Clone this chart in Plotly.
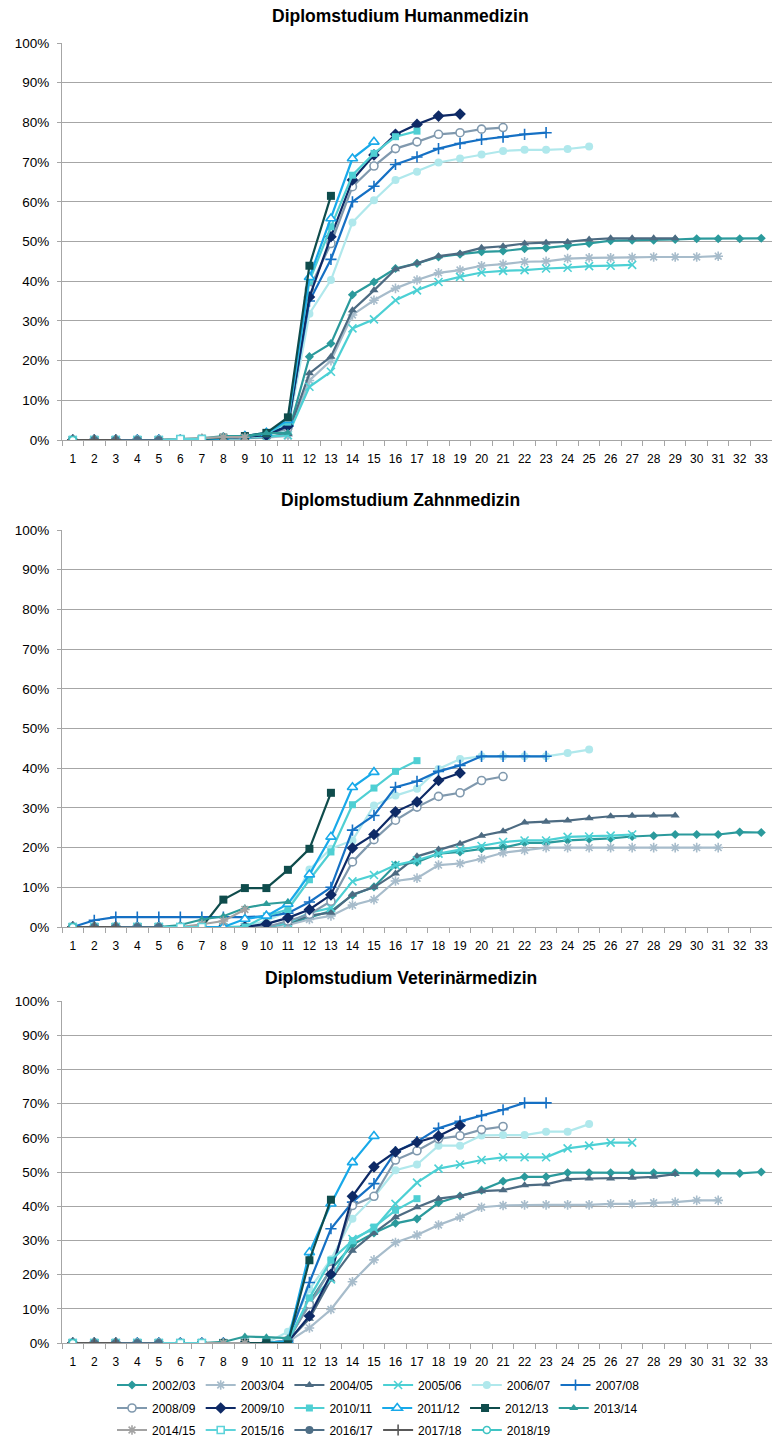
import plotly.graph_objects as go

# ---------------- data ----------------
SEMESTERS = list(range(1, 34))
SEMESTER_LABELS = [str(s) for s in SEMESTERS]
Y_TICKS = [0, 10, 20, 30, 40, 50, 60, 70, 80, 90, 100]
Y_TICK_LABELS = [f"{v}%" for v in Y_TICKS]

COHORTS = ["2002/03", "2003/04", "2004/05", "2005/06", "2006/07", "2007/08",
           "2008/09", "2009/10", "2010/11", "2011/12", "2012/13", "2013/14",
           "2014/15", "2015/16", "2016/17", "2017/18", "2018/19"]

PANEL_TITLES = ["Diplomstudium Humanmedizin", "Diplomstudium Zahnmedizin",
                "Diplomstudium Veterinärmedizin"]

# Humanmedizin (cumulative share of graduates, %)
HUM_2002 = [0, 0, 0, 0, 0, 0, 0, 0.3, 0.5, 0.8, 1.3, 21.0, 24.3, 36.6, 39.8, 43.2, 44.5, 46.1, 46.8, 47.4,
            47.6, 48.2, 48.4, 48.9, 49.5, 50.2, 50.3, 50.3, 50.5, 50.7, 50.7, 50.7, 50.8]
HUM_2003 = [0, 0, 0, 0, 0, 0, 0, 0.2, 0.4, 0.6, 1.0, 15.0, 20.0, 31.5, 35.2, 38.2, 40.3, 42.1, 42.8, 43.9,
            44.3, 44.9, 45.0, 45.7, 45.9, 45.9, 46.0, 46.1, 46.1, 46.1, 46.3]
HUM_2004 = [0, 0, 0, 0, 0, 0, 0, 0.3, 0.5, 0.8, 1.5, 16.8, 21.0, 32.7, 37.7, 43.0, 44.5, 46.3, 47.0, 48.4,
            48.8, 49.5, 49.7, 49.9, 50.5, 50.8, 50.8, 50.8, 50.8]
HUM_2005 = [0, 0, 0, 0, 0, 0, 0, 0.2, 0.5, 0.8, 1.2, 13.4, 17.2, 28.1, 30.4, 35.2, 37.7, 39.8, 41.1, 42.2,
            42.6, 42.8, 43.2, 43.4, 43.8, 43.9, 44.1]
HUM_2006 = [0, 0, 0, 0, 0, 0, 0, 0.3, 0.6, 1.2, 2.5, 31.8, 40.3, 54.8, 60.4, 65.5, 67.6, 69.9, 70.9, 71.9,
            72.8, 73.1, 73.1, 73.3, 73.9]
HUM_2007 = [0, 0, 0, 0, 0, 0, 0, 0.4, 0.8, 1.5, 3.5, 35.0, 45.5, 60.0, 63.9, 69.4, 71.3, 73.4, 74.7, 75.7,
            76.3, 77.0, 77.4]
HUM_2008 = [0, 0, 0, 0, 0, 0, 0, 0.3, 0.7, 1.3, 3.0, 38.0, 49.5, 63.8, 69.0, 73.4, 75.1, 77.0, 77.4, 78.3,
            78.7]
HUM_2009 = [0, 0, 0, 0, 0, 0, 0, 0.4, 0.8, 1.2, 3.5, 36.0, 51.2, 65.5, 71.8, 77.0, 79.5, 81.6, 82.1]
HUM_2010 = [0, 0, 0, 0, 0, 0, 0, 0.5, 0.9, 1.6, 4.5, 40.0, 53.7, 66.7, 72.2, 76.4, 77.8]
HUM_2011 = [0, 0, 0, 0, 0, 0, 0, 0.5, 1.0, 1.8, 5.0, 41.0, 55.8, 70.9, 75.1]
HUM_2012 = [0, 0, 0, 0, 0, 0.2, 0.3, 0.6, 1.0, 1.8, 5.7, 43.9, 61.5]
HUM_2013 = [0, 0, 0, 0, 0, 0.2, 0.4, 1.0, 1.0, 1.7, 1.8]
HUM_2014 = [0, 0, 0, 0, 0, 0.2, 0.4, 0.7, 0.7]
HUM_2015 = [0, 0, 0, 0, 0, 0.25, 0.25]
HUM_2016 = [0, 0, 0, 0, 0]
HUM_2017 = [0, 0, 0]
HUM_2018 = [0]

# Zahnmedizin
ZAHN_2002 = [0, 0, 0, 0, 0, 0, 0, 0, 0, 0, 0.8, 2.5, 4.0, 8.0, 10.1, 15.6, 16.3, 18.5, 18.9, 19.7,
             20.0, 21.2, 21.2, 21.8, 22.1, 22.3, 22.8, 23.0, 23.3, 23.3, 23.3, 23.9, 23.8]
ZAHN_2003 = [0, 0, 0, 0, 0, 0, 0, 0, 0, 0, 0.5, 1.9, 2.8, 5.5, 6.9, 11.6, 12.3, 15.6, 16.0, 17.2,
             18.7, 19.3, 20.0, 20.0, 20.0, 20.0, 20.0, 20.0, 20.0, 20.0, 20.0]
ZAHN_2004 = [0, 0, 0, 0, 0, 0, 0, 0, 0, 0, 1.0, 2.9, 3.6, 8.2, 10.0, 13.5, 17.8, 19.5, 21.0, 23.0,
             24.1, 26.3, 26.5, 26.8, 27.4, 27.9, 28.0, 28.1, 28.1]
ZAHN_2005 = [0, 0, 0, 0, 0, 0, 0, 0, 0, 0, 1.0, 3.6, 4.8, 11.5, 13.1, 15.6, 16.8, 18.5, 19.5, 20.4,
             21.4, 21.8, 21.8, 22.7, 22.8, 23.0, 23.3]
ZAHN_2006 = [0, 0, 0, 0, 0, 0, 0, 0, 0.3, 1.5, 4.0, 14.5, 19.7, 21.8, 30.6, 33.1, 34.8, 39.8, 42.3, 43.0,
             43.0, 43.0, 43.0, 43.8, 44.7]
ZAHN_2007 = [0, 1.7, 2.5, 2.5, 2.5, 2.5, 2.5, 2.5, 2.5, 2.7, 3.5, 6.3, 10.0, 24.4, 28.1, 35.2, 36.7, 39.2,
             40.7, 43.0, 43.0, 43.0, 43.0]
ZAHN_2008 = [0, 0, 0, 0, 0, 0, 0, 0, 0, 0, 1.5, 3.2, 6.5, 16.4, 22.0, 26.9, 30.2, 32.9, 33.8, 36.9, 37.9]
ZAHN_2009 = [0, 0, 0, 0, 0, 0, 0, 0, 0, 0.8, 2.3, 4.4, 8.1, 19.9, 23.3, 29.0, 31.5, 36.9, 38.8]
ZAHN_2010 = [0, 0, 0, 0, 0, 0, 0, 0, 0, 2.8, 4.4, 11.9, 18.9, 30.8, 35.0, 39.2, 41.9]
ZAHN_2011 = [0, 0, 0, 0, 0, 0, 0, 0, 2.0, 2.8, 5.8, 13.2, 22.7, 35.2, 39.0]
ZAHN_2012 = [0, 0, 0, 0, 0, 0, 0, 6.9, 9.8, 9.8, 14.4, 19.7, 33.8]
ZAHN_2013 = [0, 0, 0, 0, 0, 0.5, 1.9, 2.7, 4.8, 5.8, 6.3]
ZAHN_2014 = [0, 0, 0, 0, 0, 0, 0.7, 1.5, 4.4]
ZAHN_2015 = [0, 0, 0, 0, 0, 0, 0]
ZAHN_2016 = [0, 0, 0, 0, 0]
ZAHN_2017 = [0, 0, 0]
ZAHN_2018 = [0]

# Veterinärmedizin
VET_2002 = [0, 0, 0, 0, 0, 0, 0, 0, 0, 0, 0.5, 12.0, 21.5, 28.7, 32.2, 35.0, 36.3, 41.0, 43.0, 44.7,
            47.3, 48.6, 48.6, 49.8, 49.8, 49.8, 49.8, 49.8, 49.8, 49.8, 49.6, 49.6, 50.0]
VET_2003 = [0, 0, 0, 0, 0, 0, 0, 0, 0, 0, 0.3, 4.4, 9.8, 17.9, 24.3, 29.4, 31.6, 34.5, 36.8, 39.7,
            40.2, 40.4, 40.4, 40.4, 40.4, 40.7, 40.7, 41.0, 41.2, 41.7, 41.7]
VET_2004 = [0, 0, 0, 0, 0, 0, 0, 0, 0, 0, 0.5, 7.1, 18.6, 27.0, 32.2, 36.8, 39.7, 42.2, 43.0, 44.4,
            44.7, 46.1, 46.4, 47.9, 48.1, 48.1, 48.3, 48.6, 49.4]
VET_2005 = [0, 0, 0, 0, 0, 0, 0, 0, 0, 0, 0.5, 12.0, 18.6, 30.4, 33.4, 40.7, 46.9, 51.0, 52.2, 53.5,
            54.3, 54.3, 54.3, 56.9, 57.7, 58.6, 58.6]
VET_2006 = [0, 0, 0, 0, 0, 0, 0, 0, 0, 0, 3.3, 15.7, 24.5, 36.3, 42.7, 50.5, 52.2, 57.7, 57.7, 60.7,
            60.8, 60.8, 61.8, 61.8, 64.0]
VET_2007 = [0, 0, 0, 0, 0, 0, 0, 0, 0, 0, 0.8, 17.7, 33.4, 41.2, 46.6, 55.9, 58.9, 62.8, 64.8, 66.5,
            68.2, 70.2, 70.2]
VET_2008 = [0, 0, 0, 0, 0, 0, 0, 0, 0, 0, 0.8, 11.3, 21.6, 40.2, 42.9, 53.5, 56.2, 59.7, 60.6, 62.4, 63.3]
VET_2009 = [0, 0, 0, 0, 0, 0, 0, 0, 0, 0, 0.3, 7.9, 20.1, 42.9, 51.5, 55.9, 58.7, 60.5, 63.6]
VET_2010 = [0, 0, 0, 0, 0, 0, 0, 0, 0, 0, 0.5, 13.2, 24.2, 29.9, 33.9, 38.8, 42.2]
VET_2011 = [0, 0, 0, 0, 0, 0, 0, 0, 0, 0, 0.5, 26.5, 40.7, 52.8, 60.5]
VET_2012 = [0, 0, 0, 0, 0, 0, 0, 0, 0, 0, 0, 24.2, 41.9]
VET_2013 = [0, 0, 0, 0, 0, 0, 0, 0.3, 1.9, 1.7, 1.4]
VET_2014 = [0, 0, 0, 0, 0, 0, 0, 0, 0]
VET_2015 = [0, 0, 0, 0, 0, 0, 0]
VET_2016 = [0, 0, 0, 0, 0]
VET_2017 = [0, 0, 0]
VET_2018 = [0]

HUMAN = [HUM_2002, HUM_2003, HUM_2004, HUM_2005, HUM_2006, HUM_2007, HUM_2008, HUM_2009, HUM_2010,
         HUM_2011, HUM_2012, HUM_2013, HUM_2014, HUM_2015, HUM_2016, HUM_2017, HUM_2018]
ZAHN = [ZAHN_2002, ZAHN_2003, ZAHN_2004, ZAHN_2005, ZAHN_2006, ZAHN_2007, ZAHN_2008, ZAHN_2009, ZAHN_2010,
        ZAHN_2011, ZAHN_2012, ZAHN_2013, ZAHN_2014, ZAHN_2015, ZAHN_2016, ZAHN_2017, ZAHN_2018]
VET = [VET_2002, VET_2003, VET_2004, VET_2005, VET_2006, VET_2007, VET_2008, VET_2009, VET_2010,
       VET_2011, VET_2012, VET_2013, VET_2014, VET_2015, VET_2016, VET_2017, VET_2018]

# ---------------- styles ----------------
COLORS = ["#2B9A9C", "#A7BCCB", "#4D6B82", "#4CD0D4", "#B0E8EC", "#1570C4",
          "#8099AE", "#0E2A66", "#4FCFD3", "#18A9E9", "#0F4C4C", "#2D9C9A",
          "#A3A3A3", "#5ED3DA", "#4E6E86", "#595959", "#3FC4C4"]
# (symbol, hollow-with-white-fill)
SYMBOLS = [("diamond", False), ("asterisk-open", False), ("triangle-up", False), ("x-thin-open", False),
           ("circle", False), ("cross-thin-open", False), ("circle", True), ("diamond", False),
           ("square", False), ("triangle-up", True), ("square", False), ("triangle-up", False),
           ("asterisk-open", False), ("square", True), ("circle", False), ("cross-thin-open", False),
           ("circle", True)]
SIZES = [7, 8, 8, 8, 8, 8, 8, 9, 7, 9, 8, 8, 8, 7, 8, 8, 7]

FONT = "Liberation Sans, Arial, sans-serif"
GRID = "#A6A6A6"
W, H = 772, 1441

# panel geometry in pixels (top, bottom)
PANELS_PX = [(43, 440), (530, 927), (1001, 1343)]
TITLE_Y_PX = [16, 500, 978]
X_LEFT_PX, X_RIGHT_PX = 62, 772

fig = go.Figure()
datasets = [HUMAN, ZAHN, VET]
for p, data in enumerate(datasets):
    suffix = "" if p == 0 else str(p + 1)
    for i, cohort in enumerate(COHORTS):
        vals = data[i]
        sym, hollow = SYMBOLS[i]
        if hollow:
            marker = dict(symbol=sym, size=SIZES[i], color="white",
                          line=dict(color=COLORS[i], width=1.6))
        elif sym.endswith("-open"):
            marker = dict(symbol=sym, size=SIZES[i], color=COLORS[i],
                          line=dict(color=COLORS[i], width=1.6))
        else:
            marker = dict(symbol=sym, size=SIZES[i], color=COLORS[i], line=dict(width=0))
        legend_id = "legend" if i < 6 else ("legend2" if i < 12 else "legend3")
        fig.add_trace(go.Scatter(
            x=SEMESTERS[:len(vals)], y=vals, mode="lines+markers", name=cohort,
            line=dict(color=COLORS[i], width=2.2), marker=marker,
            xaxis="x" + suffix, yaxis="y" + suffix,
            showlegend=(p == 0), legend=legend_id,
            hovertemplate=cohort + ": %{y:.1f}%<extra></extra>"))

layout = dict(
    width=W, height=H, margin=dict(l=0, r=0, t=0, b=0, autoexpand=False),
    paper_bgcolor="white", plot_bgcolor="white",
    font=dict(family=FONT, size=12, color="#000000"),
    annotations=[],
)
for p in range(3):
    suffix = "" if p == 0 else str(p + 1)
    top, bot = PANELS_PX[p]
    layout["xaxis" + suffix] = dict(
        domain=[X_LEFT_PX / W, X_RIGHT_PX / W], anchor="y" + suffix, automargin=False,
        range=[0.5, 33.5], tickmode="array", tickvals=SEMESTERS, ticktext=SEMESTER_LABELS,
        ticks="", showgrid=False, zeroline=False, showline=True, linecolor=GRID, linewidth=1,
        tickfont=dict(size=12, family=FONT, color="#000000"), ticklabelstandoff=8,
        minor=dict(tick0=0.5, dtick=1, ticks="outside", ticklen=5, tickcolor=GRID, tickwidth=1,
                   showgrid=False),
        fixedrange=True)
    layout["yaxis" + suffix] = dict(
        domain=[1 - bot / H, 1 - top / H], anchor="x" + suffix, automargin=False,
        range=[0, 100], tickmode="array", tickvals=Y_TICKS, ticktext=Y_TICK_LABELS,
        ticks="outside", ticklen=4, tickcolor=GRID, showgrid=True, gridcolor=GRID, gridwidth=1,
        zeroline=False, showline=True, linecolor=GRID, linewidth=1,
        tickfont=dict(size=13.5, family=FONT, color="#000000"), ticklabelstandoff=5,
        fixedrange=True)
    layout["annotations"].append(dict(
        text="<b>" + PANEL_TITLES[p] + "</b>", x=401 / W, y=1 - TITLE_Y_PX[p] / H,
        xref="paper", yref="paper", xanchor="center", yanchor="middle",
        showarrow=False, font=dict(size=17.5, family=FONT, color="#000000")))

LEGEND_ROWS_PX = [1385, 1408, 1430]
for k, lid in enumerate(["legend", "legend2", "legend3"]):
    layout[lid] = dict(orientation="h", x=112 / W, xanchor="left",
                       y=1 - LEGEND_ROWS_PX[k] / H, yanchor="middle",
                       font=dict(size=12, family=FONT, color="#000000"), bgcolor="rgba(0,0,0,0)",
                       itemwidth=30, tracegroupgap=0, traceorder="normal")

fig.update_layout(**layout)
fig.write_html(
    "out.html",
    config={"displayModeBar": False},
    post_script="document.documentElement.style.margin='0';document.body.style.margin='0';"
                "document.body.style.padding='0';document.body.style.overflow='hidden';")
